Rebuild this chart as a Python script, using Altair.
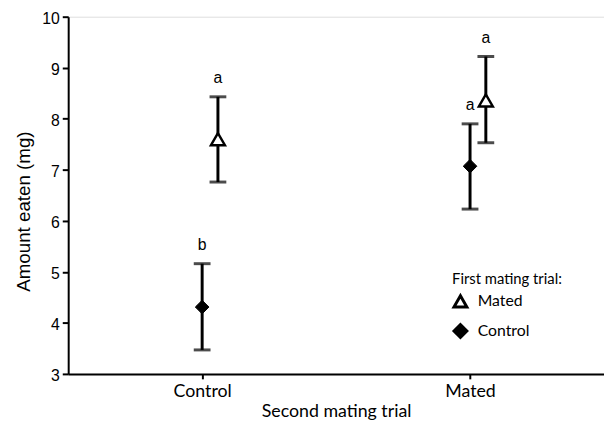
import altair as alt
import pandas as pd

second_trial = ["Control", "Control", "Mated", "Mated"]
first_trial = ["Mated", "Control", "Mated", "Control"]
mean_eaten = [7.60, 4.31, 8.36, 7.07]
lower_ci = [6.76, 3.47, 7.53, 6.23]
upper_ci = [8.43, 5.16, 9.22, 7.90]
letters = ["a", "b", "a", "a"]
y_ticks = [3, 4, 5, 6, 7, 8, 9, 10]

df = pd.DataFrame({
    "second": second_trial,
    "first": first_trial,
    "mean": mean_eaten,
    "lower": lower_ci,
    "upper": upper_ci,
    "letter": letters,
})

ARIAL = "Liberation Sans"
CAL = "Lato"

x_axis = alt.Axis(title="Second mating trial", labelAngle=0)
y_axis = alt.Axis(title="Amount eaten (mg)", values=y_ticks)
x_enc = alt.X("second:N", scale=alt.Scale(type="point", padding=0.5, domain=["Control", "Mated"]), axis=x_axis)
y_scale = alt.Scale(domain=[3, 10], nice=False, zero=False)

shape_scale = alt.Scale(domain=["Mated", "Control"], range=["triangle-up", "diamond"])
fill_scale = alt.Scale(domain=["Mated", "Control"], range=["white", "black"])
stroke_scale = alt.Scale(domain=["Mated", "Control"], range=["black", "black"])
legend = alt.Legend(
    orient="none", legendX=389, legendY=259, title="First mating trial:",
    titleFont=CAL, titleFontSize=15, titleFontWeight="normal", titleColor="black",
    labelFont=CAL, labelFontSize=16, labelColor="black", labelOffset=9,
    symbolStrokeWidth=3, symbolSize=170,
    rowPadding=4, titlePadding=6, padding=0,
)


def series(name, offset, size, sw):
    base = alt.Chart(df).transform_filter(alt.datum.first == name)
    rule = base.mark_rule(color="black", strokeWidth=3, xOffset=offset).encode(
        x=x_enc,
        y=alt.Y("lower:Q", scale=y_scale, axis=y_axis),
        y2="upper:Q",
    )
    cap_lo = base.mark_tick(color="black", orient="horizontal", size=17, thickness=3, xOffset=offset).encode(
        x=x_enc, y=alt.Y("lower:Q", scale=y_scale, axis=y_axis)
    )
    cap_hi = base.mark_tick(color="black", orient="horizontal", size=17, thickness=3, xOffset=offset).encode(
        x=x_enc, y=alt.Y("upper:Q", scale=y_scale, axis=y_axis)
    )
    pts = base.mark_point(filled=True, strokeWidth=sw, size=size, opacity=1, xOffset=offset).encode(
        x=x_enc,
        y=alt.Y("mean:Q", scale=y_scale, axis=y_axis),
        shape=alt.Shape("first:N", scale=shape_scale, legend=legend),
        fill=alt.Fill("first:N", scale=fill_scale, legend=legend),
        stroke=alt.Stroke("first:N", scale=stroke_scale, legend=legend),
    )
    txt = base.mark_text(font=ARIAL, fontSize=16, color="black", baseline="alphabetic", dy=-14, xOffset=offset).encode(
        x=x_enc, y=alt.Y("upper:Q", scale=y_scale, axis=y_axis), text="letter:N"
    )
    return [rule, cap_lo, cap_hi, pts, txt]


layers = series("Control", 0, 190, 1) + series("Mated", 16, 200, 2.5)

chart = alt.layer(*layers).properties(
    width=543, height=362,
    padding={"left": 61, "top": 6, "right": 0, "bottom": 52},
    autosize="none",
).configure_view(stroke=None).configure(background="white").configure_axis(
    grid=False, domainColor="black", domainWidth=2, tickColor="black", tickWidth=2,
    labelColor="black", titleColor="black", titleFontWeight="normal",
).configure_axisX(
    tickSize=5, labelFont=CAL, labelFontSize=18, labelPadding=4,
    titleFont=CAL, titleFontSize=18, titlePadding=2,
).configure_axisY(
    tickSize=6, labelFont=ARIAL, labelFontSize=16, labelPadding=3, labelOffset=1.5,
    titleFont=ARIAL, titleFontSize=19, titleX=-45, titleY=197, titleBaseline="middle",
)

chart.save("out.html", embed_options={"renderer": "svg", "actions": False})
